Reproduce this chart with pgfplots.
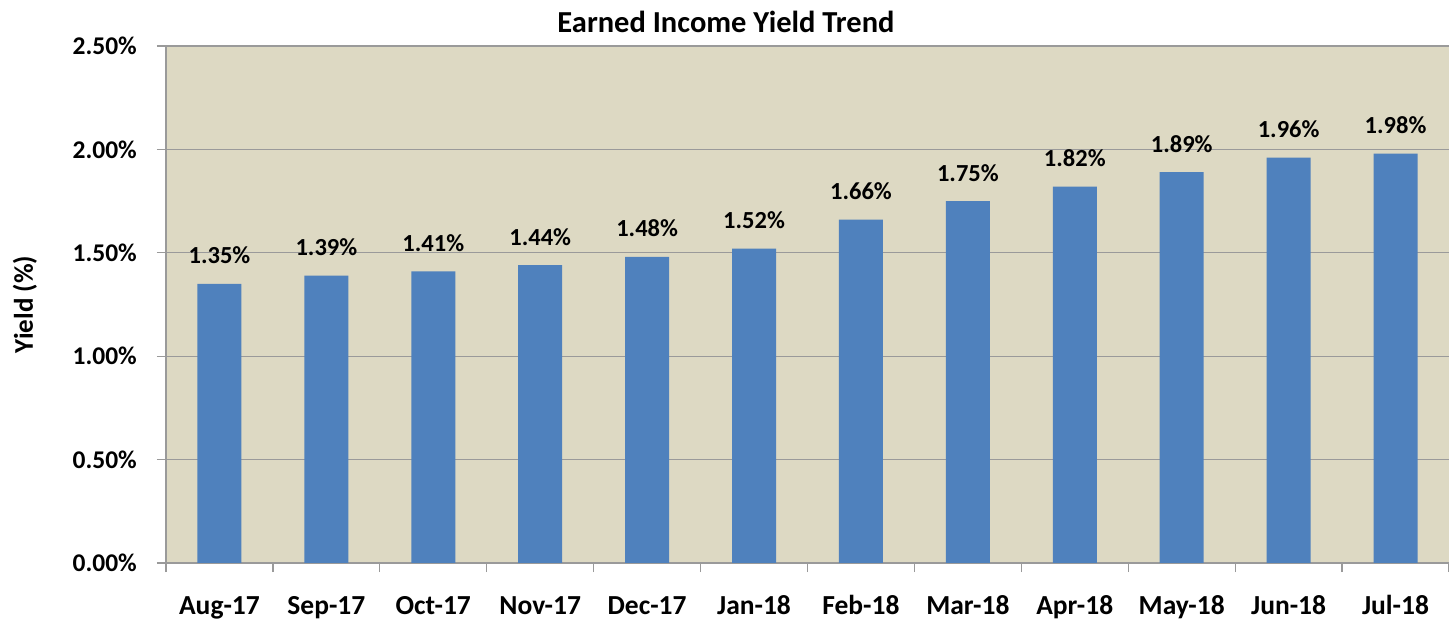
\documentclass[border=0pt]{standalone}
\usepackage{fontspec}
\setmainfont{Carlito}
\usepackage{pgfplots}
\pgfplotsset{compat=1.18}
\definecolor{bgtan}{HTML}{DDD9C3}
\definecolor{barblue}{HTML}{4F81BD}
\definecolor{gridgray}{HTML}{9A9A9A}
\begin{document}
\bfseries
\begin{tikzpicture}
\begin{axis}[
  scale only axis,
  width=1283pt, height=517pt,
  xmin=-0.5, xmax=11.5,
  ymin=0, ymax=2.5,
  /pgf/number format/assume math mode=true,
  axis background/.style={fill=bgtan},
  axis line style={gridgray, line width=1.3pt},
  axis x line*=bottom,
  axis y line*=left,
  ytick={0,0.5,1,1.5,2,2.5},
  yticklabels={0.00\%,0.50\%,1.00\%,1.50\%,2.00\%,2.50\%},
  ymajorgrids,
  grid style={gridgray, line width=1.3pt},
  xtick={0,...,11},
  xticklabels={Aug-17,Sep-17,Oct-17,Nov-17,Dec-17,Jan-18,Feb-18,Mar-18,Apr-18,May-18,Jun-18,Jul-18},
  minor xtick={-0.5,0.5,...,11.5},
  major x tick style={draw=none},
  minor x tick style={gridgray, line width=1.3pt},
  y tick style={gridgray, line width=1.3pt},
  tick align=outside,
  major tick length=9pt,
  minor tick length=9pt,
  xticklabel style={font=\fontsize{27.5}{30}\selectfont\bfseries, anchor=base, inner sep=0pt, yshift=-42pt},
  yticklabel style={font=\fontsize{25.5}{28}\selectfont\bfseries, anchor=east, inner sep=0pt, xshift=-20pt},
  ylabel={Yield (\%)},
  every axis y label/.style={at={(rel axis cs:-0.1099,0.5)}, rotate=90, anchor=center, font=\fontsize{27}{30}\selectfont\bfseries},
  ybar,
  bar width=44pt,
  nodes near coords={\pgfmathprintnumber[fixed,fixed zerofill,precision=2]{\pgfplotspointmeta}\%},
  every node near coord/.append style={font=\fontsize{24.5}{28}\selectfont\bfseries, anchor=base, inner sep=0pt, yshift=20pt, black},
  clip=false,
]
\addplot[fill=barblue, draw=none] coordinates {
(0,1.35) (1,1.39) (2,1.41) (3,1.44) (4,1.48) (5,1.52) (6,1.66) (7,1.75) (8,1.82) (9,1.89) (10,1.96) (11,1.98)};
\end{axis}
\node[font=\fontsize{30.5}{34}\selectfont\bfseries] at (560pt,541pt) {Earned Income Yield Trend};
\pgfresetboundingbox
\path[use as bounding box] (-166pt,-58pt) rectangle (1283pt,563pt);
\end{tikzpicture}
\end{document}
